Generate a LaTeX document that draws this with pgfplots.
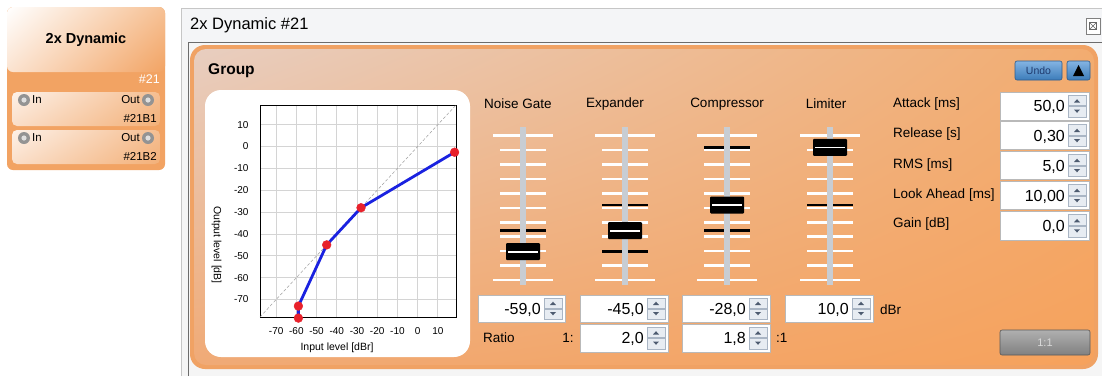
\documentclass[border=0pt]{standalone}
\usepackage{pgfplots}
\pgfplotsset{compat=1.18}
\usepackage{fontspec}
\setmainfont{Liberation Sans}
\usetikzlibrary{shadings}
\definecolor{orA}{HTML}{F2A363}
\definecolor{orB}{HTML}{F0A264}
\definecolor{trackc}{HTML}{C8CDD3}
\definecolor{boxb}{HTML}{B9B9B9}
\definecolor{spinf}{HTML}{E7ECF2}
\definecolor{spinb}{HTML}{A9B5C4}
\definecolor{arrowc}{HTML}{4D5B70}
\definecolor{redc}{HTML}{E8212B}
\definecolor{bluec}{HTML}{1A22E0}
\definecolor{gridc}{HTML}{D4D4D4}
\definecolor{cardUR}{RGB}{246,193,149}
\definecolor{cardLL}{RGB}{251,227,208}
\definecolor{subUL}{RGB}{253,241,232}
\definecolor{subUR}{RGB}{245,190,145}
\definecolor{subLL}{RGB}{250,222,200}
\definecolor{subLR}{RGB}{243,176,120}
\definecolor{titlebg}{RGB}{244,245,247}
\definecolor{panUL}{RGB}{232,206,192}
\definecolor{panUR}{RGB}{242,172,112}
\definecolor{panLL}{RGB}{240,170,118}
\definecolor{panLR}{RGB}{246,162,92}
\definecolor{btnT}{RGB}{132,180,226}
\definecolor{btnB}{RGB}{60,124,186}
\definecolor{btnD}{RGB}{46,92,140}
\definecolor{btnTx}{RGB}{30,58,110}
\definecolor{grT}{RGB}{176,176,176}
\definecolor{grB}{RGB}{128,128,128}
\newcommand\lblfont{\fontsize{13.5}{14}\selectfont}
\newcommand\valfont{\fontsize{16}{16}\selectfont}
\newcommand{\spin}[5]{%
  \fill[white] (#1,#2) rectangle (#3,#4);
  \draw[boxb, line width=0.8pt] (#1,#2) rectangle (#3,#4);
  \fill[spinf] ({#3-21},{#2+3}) rectangle ({#3-3},{(#2+#4)/2-0.7});
  \fill[spinf] ({#3-21},{(#2+#4)/2+0.7}) rectangle ({#3-3},{#4-3});
  \draw[spinb, line width=0.5pt] ({#3-21},{#2+3}) rectangle ({#3-3},{(#2+#4)/2-0.7});
  \draw[spinb, line width=0.5pt] ({#3-21},{(#2+#4)/2+0.7}) rectangle ({#3-3},{#4-3});
  \fill[arrowc] ({#3-15},{(#2+#4)/2-3.5}) -- ({#3-9},{(#2+#4)/2-3.5}) -- ({#3-12},{(#2+#4)/2-6.8}) -- cycle;
  \fill[arrowc] ({#3-15},{(#2+#4)/2+3.5}) -- ({#3-9},{(#2+#4)/2+3.5}) -- ({#3-12},{(#2+#4)/2+6.8}) -- cycle;
  \node[anchor=base east, inner sep=0pt, font=\valfont] at ({#3-24},{(#2+#4)/2+5.7}) {#5};
}
\newcommand{\slider}[3]{%
  \foreach \i in {0,...,10} {
    \pgfmathsetmacro{\yy}{135.7+14.43*\i}
    \ifnum\i=0 \def\w{30}\else\ifnum\i=10 \def\w{30}\else\def\w{23}\fi\fi
    \draw[white, line width=2.6pt] ({#1-\w},\yy) -- ({#1+\w},\yy);
  }
  \foreach \yy in {#3} { \draw[black, line width=2.6pt] ({#1-23},\yy) -- ({#1+23},\yy); }
  \fill[trackc] ({#1-2.6},127) rectangle ({#1+2.6},285);
  \fill[black, rounded corners=1pt] ({#1-17},{#2-8.5}) rectangle ({#1+17},{#2+8.5});
  \draw[white, line width=1.6pt] ({#1-15},#2) -- ({#1+15},#2);
}
\begin{document}
\begin{tikzpicture}
\useasboundingbox (0pt,0pt) rectangle (1102pt,-376pt);
\begin{scope}[x=1pt,y=-1pt]
  % background
  \fill[white] (0,0) rectangle (1102,376);
  % ---------- left block ----------
  \fill[orA, rounded corners=6pt] (7,7) rectangle (165,170);
  \shade[rounded corners=6pt, upper left=white, upper right=cardUR,
         lower left=cardLL, lower right=orA] (7,7) rectangle (165,72);
  \node[font=\fontsize{14.5}{15}\selectfont\bfseries] at (86,40) {2x Dynamic};
  \node[anchor=east, text=white, inner sep=0pt, font=\fontsize{12.5}{13}\selectfont] at (160,79) {\#21};
  \foreach \ya/\lab in {92/\#21B1, 130/\#21B2} {
    \shade[rounded corners=5pt, upper left=subUL, upper right=subUR,
           lower left=subLL, lower right=subLR] (12,\ya) rectangle (160,\ya+34);
    \fill[gray!85] (24,\ya+8) circle (6);
    \fill[gray!25] (24,\ya+8) circle (2.6);
    \fill[gray!85] (148,\ya+8) circle (6);
    \fill[gray!25] (148,\ya+8) circle (2.6);
    \node[anchor=west, inner sep=0pt, font=\fontsize{11.5}{12}\selectfont] at (32,\ya+8) {In};
    \node[anchor=east, inner sep=0pt, font=\fontsize{11.5}{12}\selectfont] at (140,\ya+8) {Out};
    \node[anchor=east, inner sep=0pt, font=\fontsize{11.5}{12}\selectfont] at (157,\ya+26) {\lab};
  }
  % ---------- window ----------
  \fill[gray!8] (181,8) rectangle (1102,376);
  \fill[titlebg] (181,8) rectangle (1102,42);
  \draw[gray!45, line width=0.8pt] (181,376) -- (181,8) -- (1102,8);
  \draw[gray!85!black, line width=1pt] (188,376) -- (188,42) -- (1102,42);
  \node[anchor=west, inner sep=0pt, font=\fontsize{16.5}{17}\selectfont] at (190,25) {2x Dynamic \#21};
  \draw[gray, line width=0.7pt, fill=white] (1086,18) rectangle (1100,34);
  \draw[gray!80!black, line width=0.6pt] (1089.5,22.5) rectangle (1096.5,29.5);
  \draw[gray!80!black, line width=0.6pt] (1089.5,22.5) -- (1096.5,29.5) (1096.5,22.5) -- (1089.5,29.5);
  % group panel
  \fill[orB, rounded corners=15pt] (190,45) rectangle (1098,369);
  \shade[rounded corners=12pt, upper left=panUL, upper right=panUR,
         lower left=panLL, lower right=panLR] (194,49) rectangle (1094,365);
  \node[anchor=west, inner sep=0pt, font=\fontsize{15.5}{16}\selectfont\bfseries] at (208,71) {Group};
  % undo + arrow buttons
  \shade[rounded corners=2pt, top color=btnT, bottom color=btnB] (1015,61) rectangle (1062,80);
  \draw[btnD, rounded corners=2pt, line width=0.6pt] (1015,61) rectangle (1062,80);
  \node[text=btnTx, font=\fontsize{10.5}{11}\selectfont] at (1038.5,70.5) {Undo};
  \shade[rounded corners=2pt, top color=btnT, bottom color=btnB] (1067,61) rectangle (1090,80);
  \draw[btnD, rounded corners=2pt, line width=0.6pt] (1067,61) rectangle (1090,80);
  \fill[black] (1073,76) -- (1084,76) -- (1078.5,65) -- cycle;
  % chart panel
  \fill[white, rounded corners=16pt] (205,90) rectangle (470,357);
  % slider labels
  \node[font=\lblfont] at (518,104) {Noise Gate};
  \node[font=\lblfont] at (615,104) {Expander};
  \node[font=\lblfont] at (727,104) {Compressor};
  \node[font=\lblfont] at (826,104) {Limiter};
  % sliders
  \slider{523}{251.7}{230.7}
  \slider{625}{230.7}{205,251.7}
  \slider{727}{205}{147.3,230.7}
  \slider{830}{147.3}{205}
  % spin boxes row 1
  \spin{478}{295}{565}{322}{-59,0}
  \spin{580}{295}{668}{322}{-45,0}
  \spin{682}{295}{770}{322}{-28,0}
  \spin{785}{295}{873}{322}{10,0}
  \node[anchor=west, inner sep=0pt, font=\lblfont] at (880,310) {dBr};
  % row 2
  \spin{580}{324}{668}{352}{2,0}
  \spin{682}{324}{770}{352}{1,8}
  \node[anchor=west, inner sep=0pt, font=\lblfont] at (483,338) {Ratio};
  \node[inner sep=0pt, font=\lblfont] at (568,338) {1:};
  \node[anchor=west, inner sep=0pt, font=\lblfont] at (776,338) {:1};
  % right column
  \node[anchor=west, inner sep=0pt, font=\lblfont] at (893,104) {Attack [ms]};
  \node[anchor=west, inner sep=0pt, font=\lblfont] at (893,134) {Release [s]};
  \node[anchor=west, inner sep=0pt, font=\lblfont] at (893,165) {RMS [ms]};
  \node[anchor=west, inner sep=0pt, font=\lblfont] at (893,195) {Look Ahead [ms]};
  \node[anchor=west, inner sep=0pt, font=\lblfont] at (893,224) {Gain [dB]};
  \spin{1000}{92}{1089}{120}{50,0}
  \spin{1000}{121.5}{1089}{149.5}{0,30}
  \spin{1000}{151.5}{1089}{179.5}{5,0}
  \spin{1000}{181.5}{1089}{209.5}{10,00}
  \spin{1000}{211.5}{1089}{240}{0,0}
  % 1:1 button
  \shade[rounded corners=2pt, top color=grT, bottom color=grB] (1000,330) rectangle (1090,355);
  \draw[gray!70!black, rounded corners=2pt, line width=0.6pt] (1000,330) rectangle (1090,355);
  \node[text=gray!30, font=\fontsize{11}{11}\selectfont] at (1045,342.5) {1:1};
\end{scope}
% ---------- transfer curve chart ----------
\begin{axis}[at={(260pt,-317pt)}, anchor=south west, scale only axis,
  width=196pt, height=212pt,
  xmin=-78, xmax=19, ymin=-78, ymax=19,
  xtick={-70,-60,...,10}, ytick={-70,-60,...,10},
  grid=major, major grid style={draw=gridc, line width=0.7pt},
  axis line style={black, line width=0.8pt},
  major tick length=0pt,
  tick label style={font=\fontsize{10}{10}\selectfont},
  /pgf/number format/assume math mode=true,
  yticklabel style={xshift=-8pt},
  xticklabel style={yshift=-7pt},
  xlabel={Input level [dBr]}, ylabel={Output level [dB]},
  label style={font=\fontsize{10.5}{11}\selectfont},
  xlabel style={at={(axis description cs:0.393,-0.143)}, anchor=center},
  ylabel style={at={(axis description cs:-0.221,0.34)}, anchor=center, rotate=180},
  clip=false,
]
\addplot[gray!75, densely dashed, line width=0.5pt] coordinates {(-78,-78) (19,19)};
\addplot[bluec, line width=2.8pt] coordinates {(-59,-78.5) (-59,-73) (-45,-45) (-28,-28) (18.3,-2.6)};
\addplot[only marks, mark=*, mark size=4.4pt, mark options={fill=redc, draw=redc}] coordinates {(-59,-78.5) (-59,-73) (-45,-45) (-28,-28) (18.3,-2.6)};
\end{axis}
\end{tikzpicture}
\end{document}
